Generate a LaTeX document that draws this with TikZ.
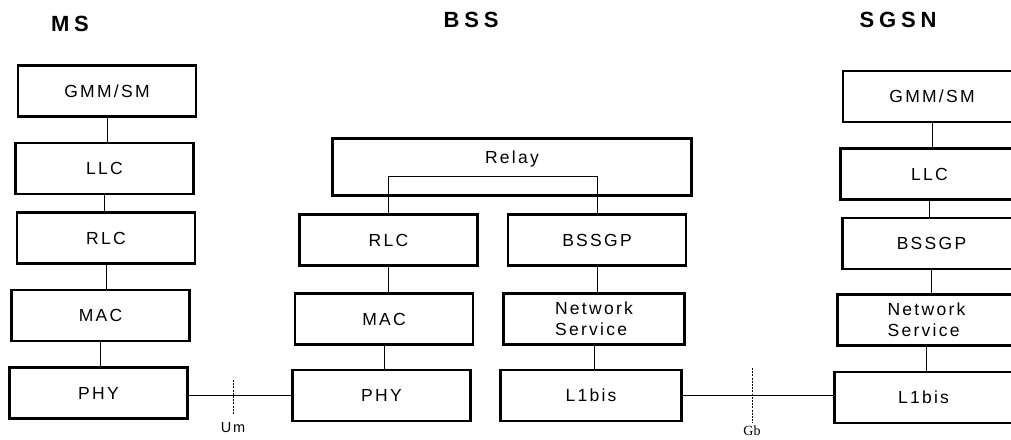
\documentclass[tikz,border=0pt]{standalone}
\usepackage{fontspec}
\setmainfont{Liberation Sans}
\newfontfamily\layerfont[LetterSpace=13]{Liberation Sans}
\newfontfamily\titlefont[LetterSpace=22]{Liberation Sans}
\newfontfamily\gbfont{Liberation Serif}
\tikzset{
  layer/.style={draw, line width=2.6pt, minimum width=178pt, minimum height=51pt,
    inner sep=0pt, font=\layerfont\fontsize{17.5}{21}\selectfont},
  entity/.style={font=\titlefont\bfseries\fontsize{22}{24}\selectfont},
  link/.style={line width=1pt},
  iface/.style={line width=1pt, dash pattern=on 2pt off 1.2pt},
}
\begin{document}
\begin{tikzpicture}[x=1pt, y=-1pt]
            \useasboundingbox (0,0) rectangle (1011,439);
            \clip (0,0) rectangle (1011,439);
            % GPRS control plane protocol stacks
            \node[entity] (ms) at (70,24) {MS};
            \node[entity] (bss) at (471,20) {BSS};
            \node[entity] (sgsn) at (898,20) {SGSN};

            \node[layer] (msgmm) at (107,91) {GMM/SM};
            \node[layer] (msllc) at (104.5,168.5) {LLC};
            \node[layer] (msrlc) at (106,238) {RLC};
            \node[layer] (msmac) at (100.5,315.5) {MAC};
            \node[layer] (msphy) at (98.5,393) {PHY};

            \node[layer, minimum width=359pt, minimum height=57pt, text depth=20pt] (relay) at (512,167) {Relay};
            \node[layer] (bssrlc) at (388.5,240) {RLC};
            \node[layer] (bssgp) at (597,240) {BSSGP};
            \node[layer] (bssmac) at (384,319) {MAC};
            \node[layer, minimum width=181pt, align=left, xshift=-8pt] (bssns) at (602,319) {Network\\Service};
            \node[layer] (bssphy) at (381.5,395.5) {PHY};
            \node[layer, minimum width=181pt] (bssl1) at (591,395.5) {L1bis};

            \node[layer] (sggmm) at (932,96.5) {GMM/SM};
            \node[layer] (sgllc) at (929.5,174) {LLC};
            \node[layer] (sgbssgp) at (931.5,243.5) {BSSGP};
            \node[layer, align=left] (sgns) at (926.5,320) {Network\\Service};
            \node[layer] (sgl1) at (923.5,397.5) {L1bis};

            \draw[link] (msgmm.south) -- (msgmm.south |- msllc.north);
            \draw[link] (msllc.south) -- (msllc.south |- msrlc.north);
            \draw[link] (msrlc.south) -- (msrlc.south |- msmac.north);
            \draw[link] (msmac.south) -- (msmac.south |- msphy.north);

            \coordinate (relayjoin) at (0,176);
            \draw[link] (bssrlc.north) |- (relayjoin -| bssgp.north) -- (bssgp.north);
            \draw[link] (bssrlc.south) -- (bssrlc.south |- bssmac.north);
            \draw[link] (bssmac.south) -- (bssmac.south |- bssphy.north);
            \draw[link] (bssgp.south) -- (bssgp.south |- bssns.north);
            \draw[link] (bssns.south) -- (bssns.south |- bssl1.north);

            \draw[link] (sggmm.south) -- (sggmm.south |- sgllc.north);
            \draw[link] (sgllc.south) -- (sgllc.south |- sgbssgp.north);
            \draw[link] (sgbssgp.south) -- (sgbssgp.south |- sgns.north);
            \draw[link] (sgns.south) -- (sgns.south |- sgl1.north);

            % air and Gb interfaces
            \draw[link] (msphy.east |- bssphy.west) -- (bssphy.west);
            \draw[link] (bssl1.east) -- (bssl1.east -| sgl1.west);
            \coordinate (umtop) at (233,380);
            \coordinate (umbot) at (233,414);
            \coordinate (gbtop) at (752,368);
            \coordinate (gbbot) at (752,423);
            \draw[iface] (umtop) -- (umbot);
            \draw[iface] (gbtop) -- (gbbot);
            \node[font=\layerfont\fontsize{14.5}{16}\selectfont] (um) at (233,428) {Um};
            \node[font=\gbfont\fontsize{14}{16}\selectfont] (gb) at (752,431) {Gb};
        \end{tikzpicture}
\end{document}
